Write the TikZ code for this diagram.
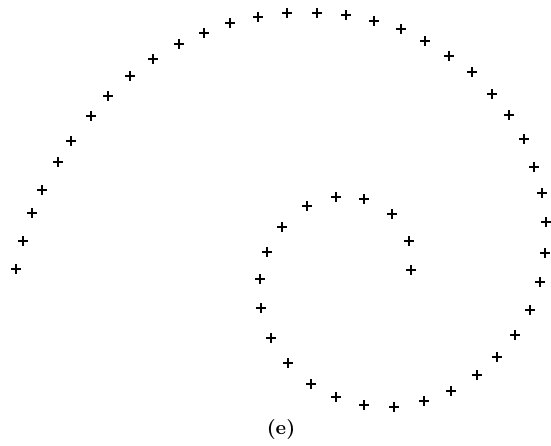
\documentclass[tikz,border=0pt]{standalone}
\usepackage{tikz}
\usetikzlibrary{positioning}

\begin{document}
\begin{tikzpicture}[x=0.5pt, y=-0.5pt, line width=0.55pt]
    \useasboundingbox (0,0) rectangle (551,445);
    % outer arc, from the left end round to the bottom
    \foreach \px/\py in {16/269, 23/241, 32/213, 42/190, 58/162, 71/141, 91/116,
        108/96, 130/76, 153/59, 179/44, 204/33, 230/23, 258/17, 287/13, 317/13,
        346/15, 374/21, 401/29, 425/41, 449/56, 472/72, 492/94, 509/115,
        524/139, 534/167, 542/193, 546/222, 545/253, 540/282, 530/310,
        515/335, 497/357, 477/375, 451/391, 424/401, 394/407, 364/405}
      \draw (\px,\py) +(-5,0) -- +(5,0) +(0,-5) -- +(0,5);
    % inner turn of the spiral
    \foreach \px/\py in {336/397, 311/384, 288/363, 271/338, 261/308,
        260/279, 267/252, 282/227, 307/206, 336/197, 364/199, 392/214,
        409/241, 411/270}
      \draw (\px,\py) +(-5,0) -- +(5,0) +(0,-5) -- +(0,5);
    \node (caption) at (281,429) {\textbf{(e)}};
\end{tikzpicture}
\end{document}
